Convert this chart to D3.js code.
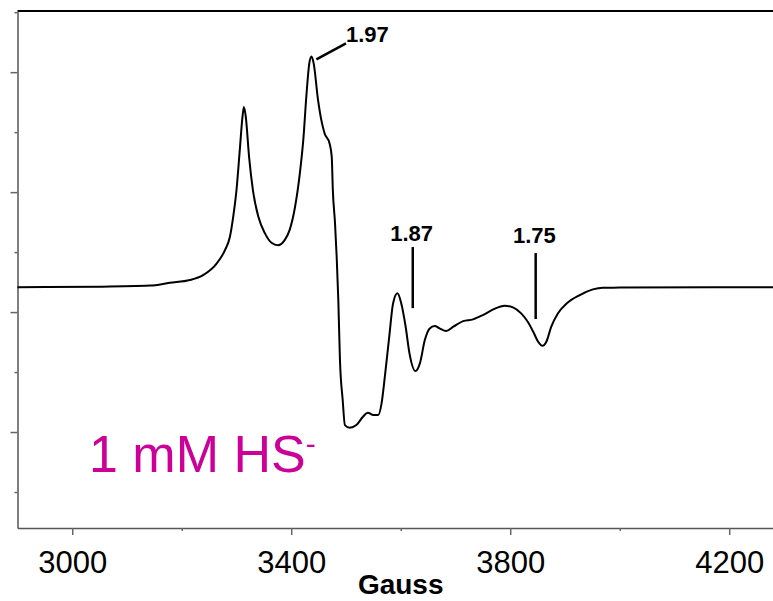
<!DOCTYPE html>
<html>
<head>
<meta charset="utf-8">
<script src="https://cdn.jsdelivr.net/npm/d3@7"></script>
<style>
  body { margin: 0; background: #fff; }
  svg { display: block; font-family: "Liberation Sans", Arial, sans-serif; }
</style>
</head>
<body>
<div id="chart"></div>
<script>
// EPR derivative spectrum, field in Gauss, intensity in arbitrary units
const gauss = [2900, 3051, 3142, 3178, 3215, 3239, 3264, 3279, 3288, 3294, 3300, 3306, 3311, 3313.5,
  3317, 3323, 3330, 3340, 3352, 3364, 3376, 3388, 3397, 3407, 3416, 3422, 3428, 3433, 3437,
  3441, 3449, 3455, 3461, 3470, 3474, 3476, 3480, 3483, 3486, 3489, 3494, 3498, 3507, 3519,
  3531, 3540, 3550, 3559, 3565, 3571, 3579, 3586, 3594, 3601, 3609, 3616, 3627, 3635, 3644,
  3653, 3662, 3671, 3683, 3696, 3714, 3732, 3750, 3769, 3790, 3805, 3820, 3832, 3842, 3851,
  3859, 3866, 3875, 3887, 3903, 3927, 3951, 3969, 4000, 4280];
const intensity = [1.208, 1.212, 1.221, 1.244, 1.267, 1.308, 1.406, 1.517, 1.628, 1.794, 2.017, 2.35, 2.63, 2.71,
  2.628, 2.294, 2.017, 1.794, 1.656, 1.578, 1.558, 1.6, 1.683, 1.878, 2.167, 2.433, 2.823, 3.073, 3.13,
  3.073, 2.767, 2.6, 2.489, 2.406, 2.294, 2.017, 1.739, 1.461, 1.1, 0.6, 0.267, 0.058, 0.036, 0.058,
  0.128, 0.161, 0.142, 0.142, 0.239, 0.461, 0.794, 1.072, 1.156, 1.072, 0.878, 0.656, 0.508, 0.572, 0.767,
  0.864, 0.883, 0.864, 0.842, 0.878, 0.925, 0.939, 0.975, 1.022, 1.053, 1.039, 0.989, 0.919, 0.836, 0.753,
  0.719, 0.753, 0.878, 0.989, 1.072, 1.142, 1.189, 1.203, 1.204, 1.208];

const xMajorTicks = [3000, 3400, 3800, 4200];
const xMinorTicks = [3200, 3600, 4000];
const yMajorTicks = [0, 1, 2, 3];
const yMinorTicks = [-0.5, 0.5, 1.5, 2.5, 3.5];

// g-value marker labels
const gLabels = ["1.97", "1.87", "1.75"];

const data = gauss.map((g, i) => ({g: g, v: intensity[i]}));

const width = 773, height = 601;
const plotLeft = 17.5, plotTop = 11, plotBottom = 528;

const x = d3.scaleLinear().domain([2900, 4280]).range([plotLeft, 773]);
const y = d3.scaleLinear().domain([-0.8, 3.51]).range([plotBottom, plotTop]);

const svg = d3.select("#chart").append("svg")
    .attr("width", width)
    .attr("height", height);

svg.append("rect").attr("width", width).attr("height", height).attr("fill", "#fff");

// top frame line
svg.append("line")
    .attr("x1", plotLeft).attr("x2", width)
    .attr("y1", plotTop).attr("y2", plotTop)
    .attr("stroke", "#000").attr("stroke-width", 2);

// x axis - major ticks with labels
const xAxis = svg.append("g")
    .attr("transform", `translate(0,${plotBottom})`)
    .call(d3.axisBottom(x).tickValues(xMajorTicks).tickSize(7).tickSizeOuter(0).tickFormat(d3.format("d")));
xAxis.select(".domain").attr("stroke", "#555").attr("stroke-width", 1.5);
xAxis.selectAll(".tick line").attr("stroke", "#666").attr("stroke-width", 1.5);
xAxis.selectAll(".tick text")
    .attr("y", 45).attr("dy", 0)
    .attr("fill", "#000")
    .style("font-size", "31px")
    .style("font-family", "'Liberation Sans', Arial, sans-serif");

// x axis - minor ticks
svg.append("g")
    .attr("transform", `translate(0,${plotBottom})`)
    .call(d3.axisBottom(x).tickValues(xMinorTicks).tickSize(3).tickFormat(""))
    .call(g => g.select(".domain").remove())
    .selectAll(".tick line").attr("stroke", "#666").attr("stroke-width", 1.5);

// y axis - no labels
const yAxis = svg.append("g")
    .attr("transform", `translate(${plotLeft},0)`)
    .call(d3.axisLeft(y).tickValues(yMajorTicks).tickSize(7).tickSizeOuter(0).tickFormat(""));
yAxis.select(".domain").attr("stroke", "#555").attr("stroke-width", 1.5);
yAxis.selectAll(".tick line").attr("stroke", "#666").attr("stroke-width", 1.5);

svg.append("g")
    .attr("transform", `translate(${plotLeft},0)`)
    .call(d3.axisLeft(y).tickValues(yMinorTicks).tickSize(3).tickFormat(""))
    .call(g => g.select(".domain").remove())
    .selectAll(".tick line").attr("stroke", "#666").attr("stroke-width", 1.5);

// axis title
svg.append("text")
    .attr("x", x(3600)).attr("y", 594)
    .attr("text-anchor", "middle")
    .style("font-size", "28px").style("font-weight", "bold")
    .text("Gauss");

// spectrum
const line = d3.line()
    .x(d => x(d.g))
    .y(d => y(d.v))
    .curve(d3.curveMonotoneX);

svg.append("path")
    .datum(data)
    .attr("fill", "none")
    .attr("stroke", "#000")
    .attr("stroke-width", 2)
    .attr("d", line);

// g-value annotations
const markers = [
  {label: gLabels[0], x1: 3446, v1: 3.106, x2: 3500, v2: 3.24, tx: 3500, tv: 3.253, anchor: "start"},
  {label: gLabels[1], x1: 3622, v1: 1.542, x2: 3622, v2: 1.033, tx: 3620, tv: 1.594, anchor: "middle"},
  {label: gLabels[2], x1: 3846.5, v1: 1.492, x2: 3846.5, v2: 0.942, tx: 3844, tv: 1.5725, anchor: "middle"}
];

svg.selectAll(".gline")
    .data(markers)
  .enter().append("line")
    .attr("class", "gline")
    .attr("x1", d => x(d.x1)).attr("y1", d => y(d.v1))
    .attr("x2", d => x(d.x2)).attr("y2", d => y(d.v2))
    .attr("stroke", "#000").attr("stroke-width", 2.5);

svg.selectAll(".glabel")
    .data(markers)
  .enter().append("text")
    .attr("class", "glabel")
    .attr("x", d => x(d.tx)).attr("y", d => y(d.tv))
    .attr("text-anchor", d => d.anchor)
    .style("font-size", "22px").style("font-weight", "bold")
    .text(d => d.label);

// sample label
const lbl = svg.append("text")
    .attr("x", 89).attr("y", 472)
    .attr("fill", "#CC0099")
    .style("font-size", "52px");
lbl.append("tspan").text("1 mM HS");
lbl.append("tspan").attr("dy", -18).style("font-size", "30px").text("-");
</script>
</body>
</html>
